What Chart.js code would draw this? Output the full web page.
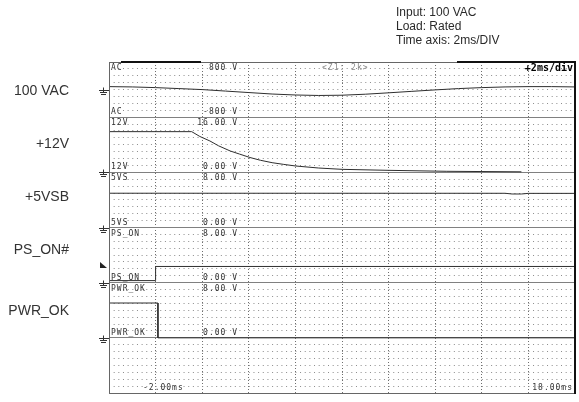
<!DOCTYPE html>
<html>
<head>
<meta charset="utf-8">
<script src="https://cdn.jsdelivr.net/npm/chart.js@4.4.0/dist/chart.umd.min.js"></script>
<style>
    html, body { margin: 0; padding: 0; background: #fff; }
    #wrap { position: relative; width: 579px; height: 402px; }
</style>
</head>
<body>
<div id="wrap"><canvas id="scope" width="579" height="402"></canvas></div>
<script>
// time axis (ms), 2 ms per division
const timeStart = -2;
const timeEnd = 18;
const msPerDiv = 2;

// channel setup, top to bottom
const channelNames = ["AC", "12V", "5VS", "PS_ON", "PWR_OK"];
const sideLabels = ["100 VAC", "+12V", "+5VSB", "PS_ON#", "PWR_OK"];
const channelMin = [-800, 0, 0, 0, 0];
const channelMax = [800, 16, 8, 8, 8];
const topScaleText = ["800 V", "16.00 V", "8.00 V", "8.00 V", "8.00 V"];
const bottomScaleText = ["-800 V", "0.00 V", "0.00 V", "0.00 V", "0.00 V"];
const sideLabelRow = [43.8, 36.1, 28.4, 20.7, 11.9];
const psOnTriggerVolts = 2.4;

// captured waveforms (time in ms, level in V)
const acTime  = [-2, -1, 0, 1, 2, 3, 4, 5, 6, 7, 8, 9, 10, 11, 12, 13, 14, 15, 16, 17, 18];
const acVolts = [86, 77, 57, 29, 0, -43, -86, -129, -157, -171, -163, -134, -94, -51, -9, 29, 57, 77, 86, 86, 77];

const v12Time  = [-2, 1.55, 1.9, 2.33, 2.7, 3.2, 3.6, 4.05, 4.5, 5.0, 5.5, 6.0, 7.0, 8.0, 10.0, 12.5, 15.7];
const v12Volts = [11.8, 11.8, 10.4, 9.1, 7.7, 6.2, 5.3, 4.3, 3.5, 2.8, 2.3, 1.85, 1.25, 0.87, 0.58, 0.3, 0.15];

const v5sbTime  = [-2, 15.0, 15.3, 15.7, 16.0, 18];
const v5sbVolts = [4.97, 4.96, 4.86, 4.86, 4.95, 4.95];

const psOnTime  = [-2, 0.0, 0.0, 18];
const psOnVolts = [0.3, 0.3, 2.35, 2.35];

const pwrOkTime  = [-2, 0.1, 0.1, 18];
const pwrOkVolts = [5.05, 5.05, 0, 0];

const ROWS_PER_CH = 8;
const ROWS = ROWS_PER_CH * 6;

// map a channel voltage onto its strip of the shared y axis
function toRow(ch, v) {
    const base = ROWS - ROWS_PER_CH * (ch + 1);
    return base + (v - channelMin[ch]) / (channelMax[ch] - channelMin[ch]) * ROWS_PER_CH;
}

function trace(ch, times, volts) {
    return {
        label: channelNames[ch],
        data: times.map((t, i) => ({ x: t, y: toRow(ch, volts[i]) })),
        borderColor: "#2e2e2e",
        borderWidth: 1,
        pointRadius: 0,
        tension: 0,
        fill: false
    };
}

const scopeDecor = {
    id: "scopeDecor",
    afterDraw(chart) {
        const { ctx, chartArea: a, scales } = chart;
        const yS = scales.y;
        ctx.save();

        // frame
        ctx.lineWidth = 1;
        ctx.strokeStyle = "#666";
        ctx.beginPath();
        ctx.moveTo(a.left + 0.5, a.top);
        ctx.lineTo(a.left + 0.5, a.bottom + 0.5);
        ctx.lineTo(a.right, a.bottom + 0.5);
        ctx.moveTo(a.left, a.top + 0.5);
        ctx.lineTo(a.right, a.top + 0.5);
        ctx.stroke();
        ctx.fillStyle = "#111";
        ctx.fillRect(a.right - 1, a.top - 1, 2, a.bottom - a.top + 2);
        ctx.fillRect(a.left + 12, a.top - 1, 80, 2);
        ctx.fillRect(a.left + 348, a.top - 1, a.right - a.left - 348, 2);

        // strip labels
        ctx.font = '8px "DejaVu Sans Mono"';
        ctx.letterSpacing = "1px";
        ctx.fillStyle = "#333";
        channelNames.forEach((name, ch) => {
            const top = yS.getPixelForValue(ROWS - ROWS_PER_CH * ch);
            const bottom = yS.getPixelForValue(ROWS - ROWS_PER_CH * (ch + 1));
            ctx.textBaseline = "top";
            ctx.textAlign = "left";
            ctx.fillText(name, a.left + 2, top + 2);
            ctx.textAlign = "right";
            ctx.fillText(topScaleText[ch], a.left + 129, top + 2);
            ctx.textBaseline = "bottom";
            ctx.textAlign = "left";
            ctx.fillText(name, a.left + 2, bottom - 1);
            ctx.textAlign = "right";
            ctx.fillText(bottomScaleText[ch], a.left + 129, bottom - 1);
        });
        ctx.textBaseline = "top";
        ctx.textAlign = "left";
        ctx.fillStyle = "#8a8a8a";
        ctx.fillText("<Z1: 2k>", a.left + 213, a.top + 2);
        ctx.fillStyle = "#333";
        ctx.textBaseline = "bottom";
        ctx.fillText("-2.00ms", a.left + 34, a.bottom - 1);
        ctx.textAlign = "right";
        ctx.fillText("18.00ms", a.right - 2, a.bottom - 1);
        ctx.font = 'bold 10px "DejaVu Sans Mono"';
        ctx.letterSpacing = "0px";
        ctx.fillStyle = "#000";
        ctx.textBaseline = "top";
        ctx.fillText("+2ms/div", a.right - 2, a.top + 1);

        // ground markers at each channel's 0 V
        ctx.strokeStyle = "#333";
        channelNames.forEach((name, ch) => {
            const gy = Math.round(yS.getPixelForValue(toRow(ch, 0))) + 0.5;
            const gx = a.left - 6;
            ctx.beginPath();
            ctx.moveTo(gx - 4, gy);
            ctx.lineTo(a.left, gy);
            ctx.moveTo(gx + 0.5, gy - 3);
            ctx.lineTo(gx + 0.5, gy + 2);
            ctx.moveTo(gx - 3, gy + 2);
            ctx.lineTo(gx + 4, gy + 2);
            ctx.moveTo(gx - 2, gy + 4);
            ctx.lineTo(gx + 3, gy + 4);
            ctx.stroke();
        });

        // trigger level marker on PS_ON
        const ty = Math.round(yS.getPixelForValue(toRow(3, psOnTriggerVolts)));
        ctx.fillStyle = "#222";
        ctx.beginPath();
        ctx.moveTo(a.left - 9, ty - 4);
        ctx.lineTo(a.left - 2, ty + 2);
        ctx.lineTo(a.left - 9, ty + 2);
        ctx.closePath();
        ctx.fill();

        // channel names outside the screen
        ctx.font = '14px "Liberation Sans"';
        ctx.fillStyle = "#333";
        ctx.textAlign = "right";
        ctx.textBaseline = "middle";
        sideLabels.forEach((txt, ch) => {
            ctx.fillText(txt, 69, yS.getPixelForValue(sideLabelRow[ch]));
        });

        // test conditions
        ctx.font = '12px "Liberation Sans"';
        ctx.fillStyle = "#2a2a2a";
        ctx.textAlign = "left";
        ["Input: 100 VAC", "Load: Rated", "Time axis: 2ms/DIV"].forEach((line, i) => {
            ctx.fillText(line, 396, 13 + i * 14);
        });
        ctx.restore();
    }
};

new Chart(document.getElementById("scope"), {
    type: "line",
    data: {
        datasets: [
            trace(0, acTime, acVolts),
            trace(1, v12Time, v12Volts),
            trace(2, v5sbTime, v5sbVolts),
            trace(3, psOnTime, psOnVolts),
            trace(4, pwrOkTime, pwrOkVolts)
        ]
    },
    options: {
        responsive: false,
        animation: false,
        devicePixelRatio: 1,
        layout: { padding: { left: 109, right: 4, top: 62, bottom: 9 } },
        plugins: { legend: { display: false }, tooltip: { enabled: false } },
        scales: {
            x: {
                type: "linear",
                min: timeStart,
                max: timeEnd,
                ticks: { display: false, stepSize: msPerDiv },
                grid: { color: "#6e6e6e", lineWidth: 1, drawTicks: false },
                border: { display: false, dash: [1, 2] }
            },
            y: {
                min: 0,
                max: ROWS,
                ticks: { display: false, stepSize: 1 },
                grid: {
                    color: c => (c.tick && c.tick.value % ROWS_PER_CH === 0) ? "rgba(0,0,0,0)" : "#8c8c8c",
                    lineWidth: 1,
                    drawTicks: false
                },
                border: { display: false, dash: [1, 3.66] }
            },
            yDiv: {
                position: "left",
                min: 0,
                max: ROWS,
                ticks: { display: false, stepSize: ROWS_PER_CH },
                grid: { color: "#808080", lineWidth: 1, drawTicks: false },
                border: { display: false }
            }
        }
    },
    plugins: [scopeDecor]
});
</script>
</body>
</html>
